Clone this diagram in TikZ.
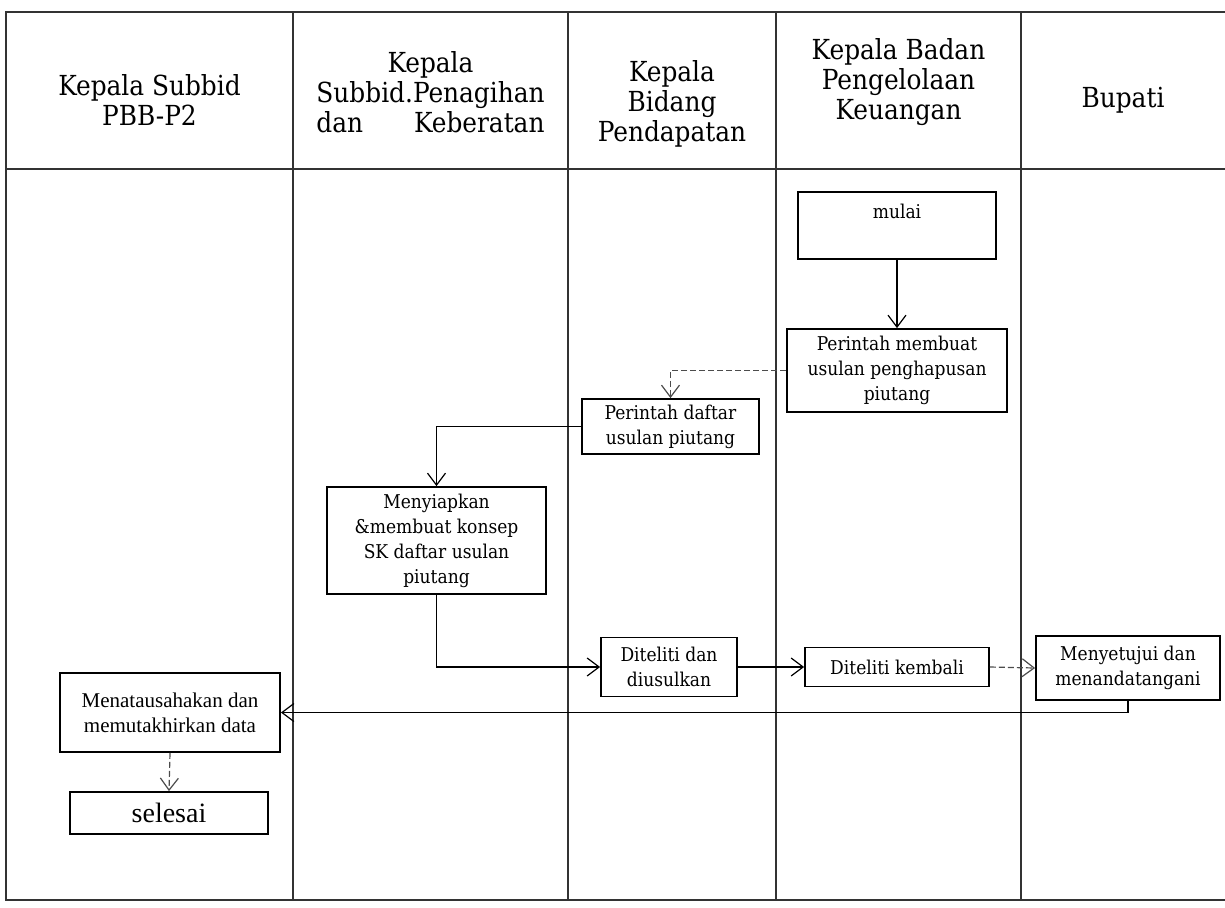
\documentclass[tikz,border=0pt]{standalone}
\usepackage{fontspec}
\setmainfont{DejaVu Serif Condensed}
\newfontfamily\timesfont{Liberation Serif}
\usetikzlibrary{arrows.meta}
\newlength\hdrw
\tikzset{
  lane/.style={line width=0.7pt, black!80},
  head/.style={align=center, font=\fontsize{13.8}{15}\selectfont},
  procbox/.style={draw, line width=0.9pt, align=center, inner sep=2pt, font=\fontsize{9.5}{12.5}\selectfont},
  flow/.style={line width=0.6pt, -{Straight Barb[length=6pt,width=9pt]}},
  faint/.style={flow, black!70, dash pattern=on 3pt off 1.5pt},
}
\begin{document}
\begin{tikzpicture}[x=0.5pt,y=-0.5pt]
   \useasboundingbox (0,0) rectangle (1225,907);

   \draw [lane] (1225,12) -- (6,12) -- (6,900) -- (1225,900);
   \draw [lane] (6,169) -- (1225,169);
   \foreach \x in {293,568,776,1021} \draw [lane] (\x,12) -- (\x,900);

   \node (hSubbid) at (149.5,100) [head] {Kepala Subbid\\PBB-P2};
   \node (hPenagihan) at (430.5,92) [head] {Kepala\\Subbid.Penagihan\\\settowidth{\hdrw}{Subbid.Penagihan}\makebox[\hdrw]{dan\hfill Keberatan}};
   \node (hBidang) at (672,104) [head] {Kepala\\Bidang\\Pendapatan};
   \node (hBadan) at (898.5,82) [head] {Kepala Badan\\Pengelolaan\\Keuangan};
   \node (hBupati) at (1123,100) [head] {Bupati};

   \node (mulai) at (897,225.5) [procbox, minimum width=99pt, text height=7pt, text depth=14.5pt, inner ysep=6pt] {mulai};
   \node (perintahBuat) at (897,370.5) [procbox, minimum width=110pt, minimum height=41.5pt] {Perintah membuat\\usulan penghapusan\\piutang};
   \node (perintahDaftar) at (670.5,426.5) [procbox, minimum width=88.5pt, minimum height=27.5pt] {Perintah daftar\\usulan piutang};
   \node (menyiapkan) at (436.5,540.5) [procbox, minimum width=109.5pt, minimum height=53.5pt] {Menyiapkan\\\&membuat konsep\\SK daftar usulan\\piutang};
   \node (ditelitiUsul) at (669,667) [procbox, minimum width=68pt, minimum height=29.5pt] {Diteliti dan\\diusulkan};
   \node (ditelitiKembali) at (897,667) [procbox, minimum width=92pt, minimum height=19.5pt] {Diteliti kembali};
   \node (menyetujui) at (1128,668) [procbox, minimum width=92pt, minimum height=32pt] {Menyetujui dan\\menandatangani};
   \node (menata) at (170,712.5) [procbox, minimum width=110pt, minimum height=39.5pt, font=\timesfont\fontsize{10.5}{12.5}\selectfont] {Menatausahakan dan\\memutakhirkan data};
   \node (selesai) at (169,813) [procbox, minimum width=99pt, minimum height=21pt, font=\timesfont\fontsize{14}{16}\selectfont] {selesai};

   \draw [flow] (mulai.south) -- (perintahBuat.north);
   \draw [faint] (perintahBuat.west) -| (perintahDaftar.north);
   \draw [flow] (perintahDaftar.west) -| (menyiapkan.north);
   \draw [flow] (menyiapkan.south) |- (ditelitiUsul.west);
   \draw [flow] (ditelitiUsul.east) -- (ditelitiKembali.west);
   \draw [faint] (ditelitiKembali.east) -- (menyetujui.west);
   \draw [flow] (menyetujui.south) |- (menata.east);
   \draw [faint] (menata.south) -- (selesai.north);

\end{tikzpicture}
\end{document}
